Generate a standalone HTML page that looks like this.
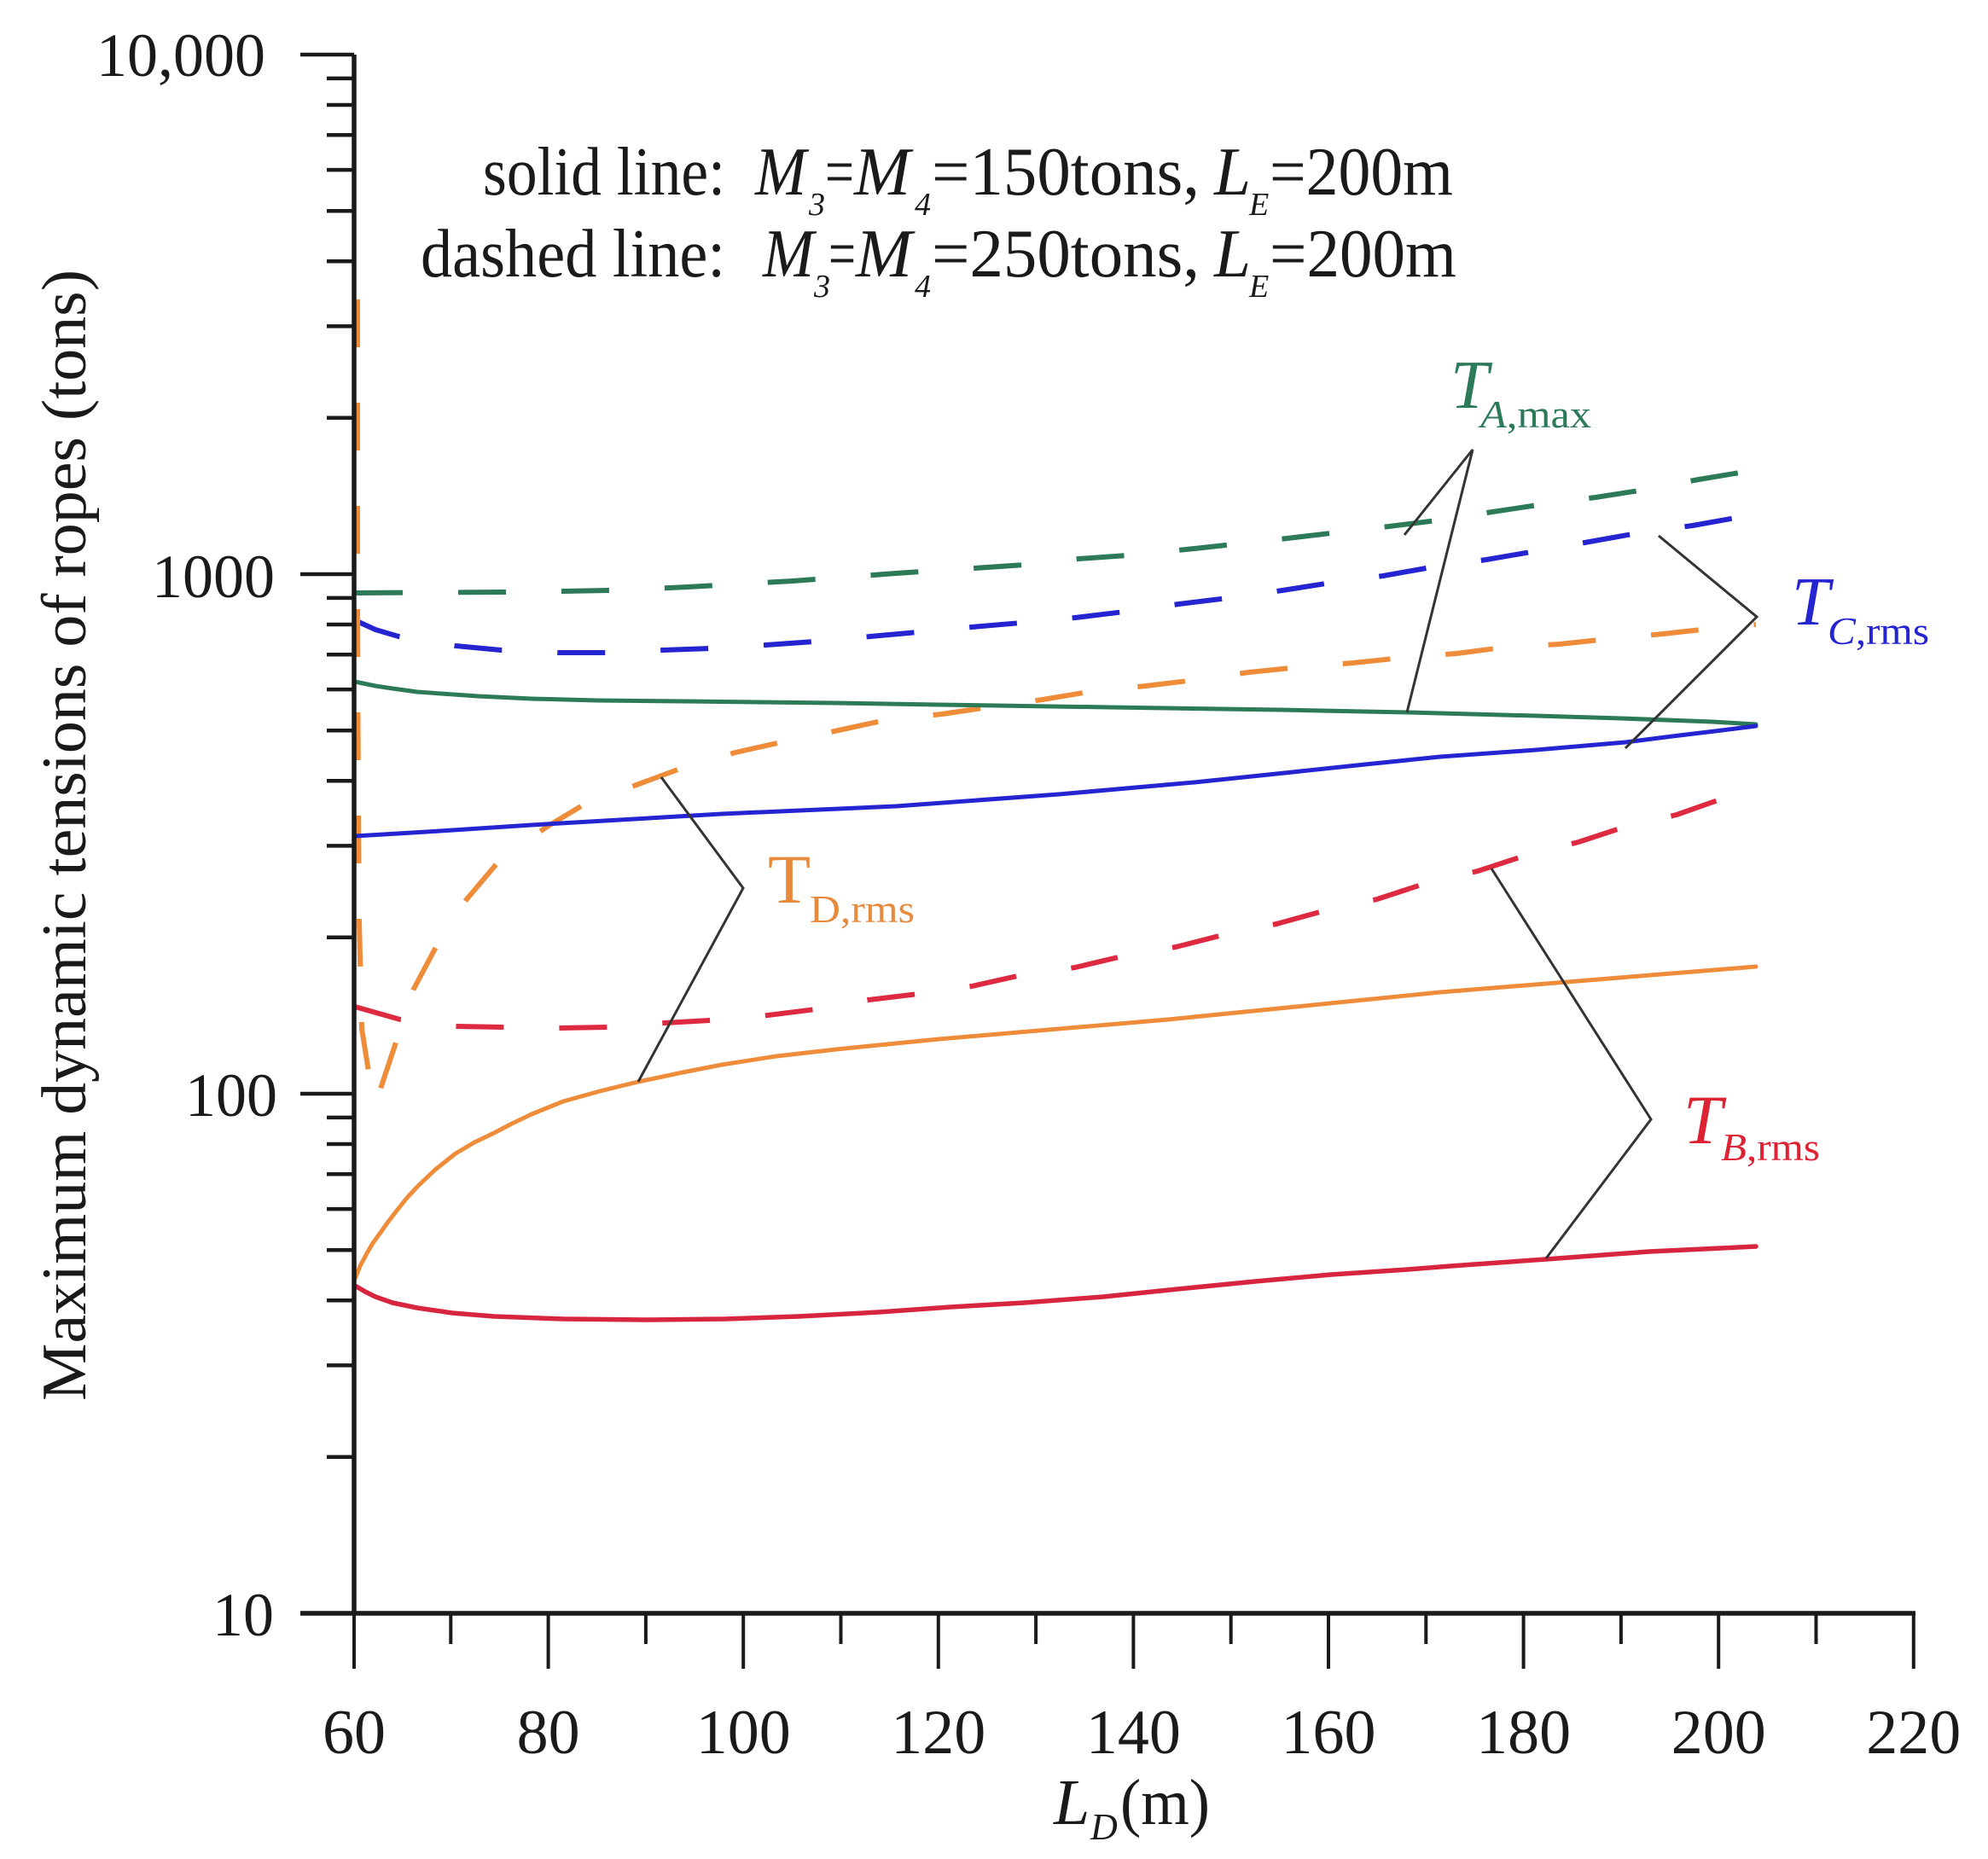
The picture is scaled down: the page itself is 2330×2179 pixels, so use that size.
<!DOCTYPE html>
<html>
<head>
<meta charset="utf-8">
<style>
html,body{margin:0;padding:0;background:#ffffff;}
svg{display:block;}
</style>
</head>
<body>
<svg width="2330" height="2179" viewBox="0 0 2330 2179" xmlns="http://www.w3.org/2000/svg" font-family="'Liberation Serif','Times New Roman',serif">
<rect x="0" y="0" width="2330" height="2179" fill="#ffffff"/>

<!-- Annotation text -->
<g fill="#1a1a1a" font-size="80">
  <text x="566" y="228" textLength="284" lengthAdjust="spacingAndGlyphs">solid line:</text>
  <text x="885" y="228" font-style="italic" textLength="60" lengthAdjust="spacingAndGlyphs">M</text>
  <text x="948" y="252" font-size="38" font-style="italic">3</text>
  <text x="967" y="228" textLength="34" lengthAdjust="spacingAndGlyphs">=</text>
  <text x="1001" y="228" font-style="italic" textLength="66" lengthAdjust="spacingAndGlyphs">M</text>
  <text x="1072" y="252" font-size="38" font-style="italic">4</text>
  <text x="1092" y="228" textLength="314" lengthAdjust="spacingAndGlyphs">=150tons,</text>
  <text x="1423" y="228" font-style="italic" textLength="43" lengthAdjust="spacingAndGlyphs">L</text>
  <text x="1464" y="252" font-size="38" font-style="italic">E</text>
  <text x="1488" y="228" textLength="215" lengthAdjust="spacingAndGlyphs">=200m</text>

  <text x="493" y="324" textLength="357" lengthAdjust="spacingAndGlyphs">dashed line:</text>
  <text x="894" y="324" font-style="italic" textLength="60" lengthAdjust="spacingAndGlyphs">M</text>
  <text x="954" y="348" font-size="38" font-style="italic">3</text>
  <text x="971" y="324" textLength="32" lengthAdjust="spacingAndGlyphs">=</text>
  <text x="1003" y="324" font-style="italic" textLength="66" lengthAdjust="spacingAndGlyphs">M</text>
  <text x="1072" y="348" font-size="38" font-style="italic">4</text>
  <text x="1092" y="324" textLength="314" lengthAdjust="spacingAndGlyphs">=250tons,</text>
  <text x="1423" y="324" font-style="italic" textLength="43" lengthAdjust="spacingAndGlyphs">L</text>
  <text x="1464" y="348" font-size="38" font-style="italic">E</text>
  <text x="1488" y="324" textLength="219" lengthAdjust="spacingAndGlyphs">=200m</text>
</g>

<!-- Dashed curves -->
<g fill="none" stroke-width="6" stroke-dasharray="56 65" stroke-linecap="butt" stroke-linejoin="round">
  <path stroke="#2c7a58" d="M416,695 L592,694 L660,693 L715,692 L806,688 L929,681 L1050,672 L1142,666 L1200,662 L1264,655 L1321,651 L1400,643 L1500,632 L1628,617 L1684,610 L1749,600 L1802,592 L1870,583 L1921,575 L1991,562 L2045,553 L2058,551"/>
  <path stroke="#2424d0" d="M416,727 L440,738 L467,746 L500,752 L534,757 L587,762 L654,765 L710,765 L777,762 L833,760 L898,756 L954,752 L1020,746 L1076,741 L1139,735 L1197,730 L1260,724 L1318,717 L1382,708 L1439,701 L1503,692 L1560,683 L1621,675 L1677,665 L1742,656 L1800,646 L1863,635 L1919,625 L1984,616 L2040,606 L2058,603"/>
  <path stroke="#ee8c3a" d="M419,351 L419,700 L420,950 L421,1080 L424,1206 L433,1262 L440,1296 L447,1273 L465,1219 L485,1159 L512,1108 L547,1054 L585,1009 L641,969 L686,942 L746,920 L800,900 L862,882 L920,869 L983,856 L1038,844 L1104,837 L1158,829 L1222,820 L1276,811 L1343,804 L1401,797 L1464,788 L1522,782 L1586,777 L1643,771 L1707,766 L1761,759 L1828,755 L1885,749 L1949,743 L2003,737 L2058,732"/>
  <path stroke="#dd2a40" d="M416,1180 L469,1195 L534,1203 L590,1204 L654,1205 L712,1204 L779,1199 L833,1196 L900,1190 L956,1183 L1018,1172 L1076,1165 L1139,1156 L1197,1143 L1260,1134 L1315,1121 L1378,1110 L1433,1096 L1496,1083 L1554,1067 L1614,1054 L1669,1036 L1732,1021 L1787,1003 L1850,987 L1905,969 L1965,955 L2019,936 L2058,924"/>
</g>

<!-- Solid curves -->
<g fill="none" stroke-linejoin="round" stroke-linecap="round">
  <path stroke="#2c7a58" stroke-width="5" d="M416,799 L440,804 L460,807 L489,811 L560,816 L623,819 L700,821 L802,822 L980,824 L1100,826 L1300,829 L1500,832 L1649,835 L1800,839 L1900,842 L2007,846 L2058,849"/>
  <path stroke="#2424d0" stroke-width="5" d="M416,980 L500,975 L623,967 L846,954 L1050,945 L1241,931 L1400,917 L1496,907 L1600,896 L1688,887 L1800,879 L1905,870 L1960,863 L2010,857 L2058,851"/>
  <path stroke="#ee8c3a" stroke-width="5" d="M416,1499 L422,1484 L430,1469 L437,1457 L445,1446 L455,1432 L465,1419 L477,1404 L489,1391 L510,1371 L534,1352 L556,1339 L579,1328 L600,1317 L623,1306 L660,1291 L703,1279 L748,1268 L800,1257 L846,1248 L910,1238 L980,1230 L1100,1218 L1369,1195 L1688,1163 L2058,1133"/>
  <path stroke="#d8253f" stroke-width="5.5" d="M416,1507 L428,1514 L440,1520 L460,1527 L489,1533 L530,1539 L579,1543 L660,1546 L757,1547 L850,1546 L936,1543 L1030,1538 L1114,1532 L1200,1527 L1293,1520 L1380,1511 L1471,1502 L1560,1494 L1650,1488 L1700,1484 L1812,1476 L1933,1467 L2058,1461"/>
</g>

<!-- Leader lines -->
<g fill="none" stroke="#333333" stroke-width="3" stroke-linejoin="miter">
  <polyline points="1646,627 1726,527 1649,835"/>
  <polyline points="1944,628 2059,723 1905,877"/>
  <polyline points="775,911 871,1041 748,1268"/>
  <polyline points="1748,1018 1935,1312 1812,1475"/>
</g>

<!-- Curve labels -->
<g>
  <text x="1700" y="478" font-size="80" font-style="italic" fill="#2c7a58">T</text>
  <text x="1735" y="501" font-size="46" fill="#2c7a58" textLength="130" lengthAdjust="spacingAndGlyphs"><tspan font-style="italic">A</tspan>,max</text>

  <text x="2100" y="732" font-size="80" font-style="italic" fill="#2424d0">T</text>
  <text x="2142" y="755" font-size="46" fill="#2424d0" textLength="119" lengthAdjust="spacingAndGlyphs"><tspan font-style="italic">C</tspan>,rms</text>

  <text x="900" y="1058" font-size="82" fill="#e88a3c">T</text>
  <text x="949" y="1081" font-size="46" fill="#e88a3c" textLength="123" lengthAdjust="spacingAndGlyphs">D,rms</text>

  <text x="1973" y="1340" font-size="82" font-style="italic" fill="#dd2233">T</text>
  <text x="2017" y="1360" font-size="46" fill="#dd2233" textLength="116" lengthAdjust="spacingAndGlyphs"><tspan font-style="italic">B</tspan>,rms</text>
</g>

<!-- Axes -->
<g stroke="#1a1a1a" fill="none">
  <line x1="415" y1="64" x2="415" y2="1893" stroke-width="5.5"/>
  <line x1="352" y1="1891" x2="2245" y2="1891" stroke-width="5.5"/>
  <g stroke-width="4.5">
    <line x1="352" y1="64" x2="415" y2="64"/>
    <line x1="352" y1="673" x2="415" y2="673"/>
    <line x1="352" y1="1282" x2="415" y2="1282"/>
  </g>
  <g stroke-width="4.5">
    <line x1="383" y1="91.9" x2="415" y2="91.9"/>
    <line x1="383" y1="123" x2="415" y2="123"/>
    <line x1="383" y1="158.3" x2="415" y2="158.3"/>
    <line x1="383" y1="199.1" x2="415" y2="199.1"/>
    <line x1="383" y1="247.3" x2="415" y2="247.3"/>
    <line x1="383" y1="306.3" x2="415" y2="306.3"/>
    <line x1="383" y1="382.4" x2="415" y2="382.4"/>
    <line x1="383" y1="489.7" x2="415" y2="489.7"/>

    <line x1="383" y1="700.9" x2="415" y2="700.9"/>
    <line x1="383" y1="732" x2="415" y2="732"/>
    <line x1="383" y1="767.3" x2="415" y2="767.3"/>
    <line x1="383" y1="808.1" x2="415" y2="808.1"/>
    <line x1="383" y1="856.3" x2="415" y2="856.3"/>
    <line x1="383" y1="915.3" x2="415" y2="915.3"/>
    <line x1="383" y1="991.4" x2="415" y2="991.4"/>
    <line x1="383" y1="1098.7" x2="415" y2="1098.7"/>

    <line x1="383" y1="1309.9" x2="415" y2="1309.9"/>
    <line x1="383" y1="1341" x2="415" y2="1341"/>
    <line x1="383" y1="1376.3" x2="415" y2="1376.3"/>
    <line x1="383" y1="1417.1" x2="415" y2="1417.1"/>
    <line x1="383" y1="1465.3" x2="415" y2="1465.3"/>
    <line x1="383" y1="1524.3" x2="415" y2="1524.3"/>
    <line x1="383" y1="1600.4" x2="415" y2="1600.4"/>
    <line x1="383" y1="1707.7" x2="415" y2="1707.7"/>
  </g>
  <g stroke-width="4">
    <line x1="415" y1="1891" x2="415" y2="1956"/>
    <line x1="642.6" y1="1891" x2="642.6" y2="1956"/>
    <line x1="871.2" y1="1891" x2="871.2" y2="1956"/>
    <line x1="1099.8" y1="1891" x2="1099.8" y2="1956"/>
    <line x1="1328.4" y1="1891" x2="1328.4" y2="1956"/>
    <line x1="1557" y1="1891" x2="1557" y2="1956"/>
    <line x1="1785.6" y1="1891" x2="1785.6" y2="1956"/>
    <line x1="2014.2" y1="1891" x2="2014.2" y2="1956"/>
    <line x1="2242.8" y1="1891" x2="2242.8" y2="1956"/>
  </g>
  <g stroke-width="4">
    <line x1="528.3" y1="1891" x2="528.3" y2="1927"/>
    <line x1="756.9" y1="1891" x2="756.9" y2="1927"/>
    <line x1="985.5" y1="1891" x2="985.5" y2="1927"/>
    <line x1="1214.1" y1="1891" x2="1214.1" y2="1927"/>
    <line x1="1442.7" y1="1891" x2="1442.7" y2="1927"/>
    <line x1="1671.3" y1="1891" x2="1671.3" y2="1927"/>
    <line x1="1899.9" y1="1891" x2="1899.9" y2="1927"/>
    <line x1="2128.5" y1="1891" x2="2128.5" y2="1927"/>
  </g>
</g>

<!-- Y tick labels -->
<g fill="#1a1a1a" font-size="72" text-anchor="end">
  <text x="311" y="89">10,000</text>
  <text x="322" y="700">1000</text>
  <text x="325" y="1308">100</text>
  <text x="321" y="1917">10</text>
</g>

<!-- X tick labels -->
<g fill="#1a1a1a" font-size="74" text-anchor="middle">
  <text x="415" y="2055">60</text>
  <text x="642.6" y="2055">80</text>
  <text x="871.2" y="2055">100</text>
  <text x="1099.8" y="2055">120</text>
  <text x="1328.4" y="2055">140</text>
  <text x="1557" y="2055">160</text>
  <text x="1785.6" y="2055">180</text>
  <text x="2014.2" y="2055">200</text>
  <text x="2242.8" y="2055">220</text>
</g>

<!-- X axis title -->
<g fill="#1a1a1a">
  <text x="1235" y="2138" font-size="76" font-style="italic">L</text>
  <text x="1278" y="2156" font-size="44" font-style="italic">D</text>
  <text x="1313" y="2138" font-size="76" textLength="105" lengthAdjust="spacingAndGlyphs">(m)</text>
</g>

<!-- Y axis title -->
<text transform="translate(100,979) rotate(-90)" text-anchor="middle" font-size="74" fill="#1a1a1a" textLength="1326" lengthAdjust="spacingAndGlyphs">Maximum dynamic tensions of ropes (tons)</text>

</svg>
</body>
</html>
